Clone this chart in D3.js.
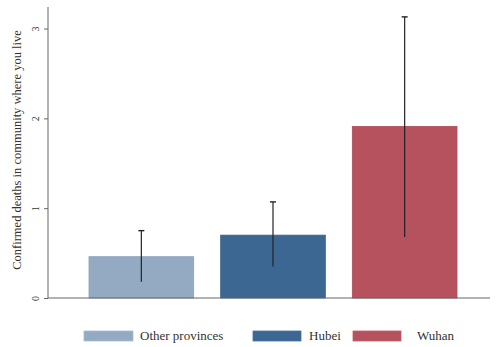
<!DOCTYPE html>
<html><head><meta charset="utf-8">
<script src="https://cdn.jsdelivr.net/npm/d3@7"></script>
<style>body{margin:0;background:#fff}svg{display:block}text{font-family:"Liberation Serif","DejaVu Serif",serif;fill:#333}</style>
</head><body><svg id="c" width="502" height="347"></svg>
<script>
const categories = ["Other provinces", "Hubei", "Wuhan"];
const means = [0.46, 0.70, 1.91];
const lower = [0.18, 0.35, 0.68];
const upper = [0.75, 1.07, 3.13];
const colors = ["#93aac2", "#3d6793", "#b5525e"];
const yTicks = [0, 1, 2, 3];
const yLabel = "Confirmed deaths in community where you live";

const svg = d3.select("#c");
const m = {l: 48, r: 12, t: 7, b: 49};
const W = 502, H = 347;
const x = d3.scaleBand().domain(categories).range([89, 457]).paddingInner(0.205).paddingOuter(0);
const y = d3.scaleLinear().domain([0, 3.24]).range([H - m.b, m.t]);

const g = svg.append("g");
g.selectAll("rect.bar").data(categories).join("rect")
  .attr("class", "bar")
  .attr("x", d => x(d)).attr("width", x.bandwidth())
  .attr("y", (d, i) => y(means[i])).attr("height", (d, i) => y(0) - y(means[i]))
  .attr("fill", (d, i) => colors[i]).attr("stroke", (d, i) => d3.color(colors[i]).darker(0.15)).attr("stroke-width", 0.8);

// error bars
const eb = g.selectAll("g.eb").data(categories).join("g").attr("class", "eb");
eb.append("line")
  .attr("x1", d => x(d) + x.bandwidth() / 2).attr("x2", d => x(d) + x.bandwidth() / 2)
  .attr("y1", (d, i) => y(lower[i])).attr("y2", (d, i) => y(upper[i]))
  .attr("stroke", "#222").attr("stroke-width", 1.2);
eb.append("line")
  .attr("x1", d => x(d) + x.bandwidth() / 2 - 3).attr("x2", d => x(d) + x.bandwidth() / 2 + 3)
  .attr("y1", (d, i) => y(upper[i])).attr("y2", (d, i) => y(upper[i]))
  .attr("stroke", "#222").attr("stroke-width", 1.4);

// y axis
const ya = svg.append("g").attr("transform", `translate(${m.l},0)`)
  .call(d3.axisLeft(y).tickValues(yTicks).tickSize(4).tickFormat(d3.format("d")));
ya.select(".domain").attr("stroke", "#666").attr("d", `M0,${y(0)}V${m.t}`);
ya.selectAll(".tick line").attr("stroke", "#666");
ya.selectAll(".tick text").attr("font-size", 10).attr("fill", "#555")
  .attr("text-anchor", "middle").attr("x", 0).attr("y", 0).attr("dy", "0")
  .attr("transform", "translate(-9,0) rotate(-90)");

// x axis line
svg.append("line").attr("x1", m.l).attr("x2", W - m.r).attr("y1", y(0)).attr("y2", y(0))
  .attr("stroke", "#666").attr("stroke-width", 1);

// y label
svg.append("text").attr("transform", `translate(21,150) rotate(-90)`)
  .attr("text-anchor", "middle").attr("font-size", 12.5).attr("fill", "#444").text(yLabel);

// legend
const legX = [84, 253, 353];
const legend = svg.append("g");
categories.forEach((c, i) => {
  legend.append("rect").attr("x", legX[i]).attr("y", 331).attr("width", i === 0 ? 49 : 48).attr("height", 10)
    .attr("fill", colors[i]).attr("stroke", d3.color(colors[i]).brighter(0.3)).attr("stroke-width", 0.8);
  legend.append("text").attr("x", legX[i] + (i === 2 ? 64 : 56)).attr("y", 340)
    .attr("font-size", 13).attr("fill", "#333").text(c);
});
</script></body></html>
